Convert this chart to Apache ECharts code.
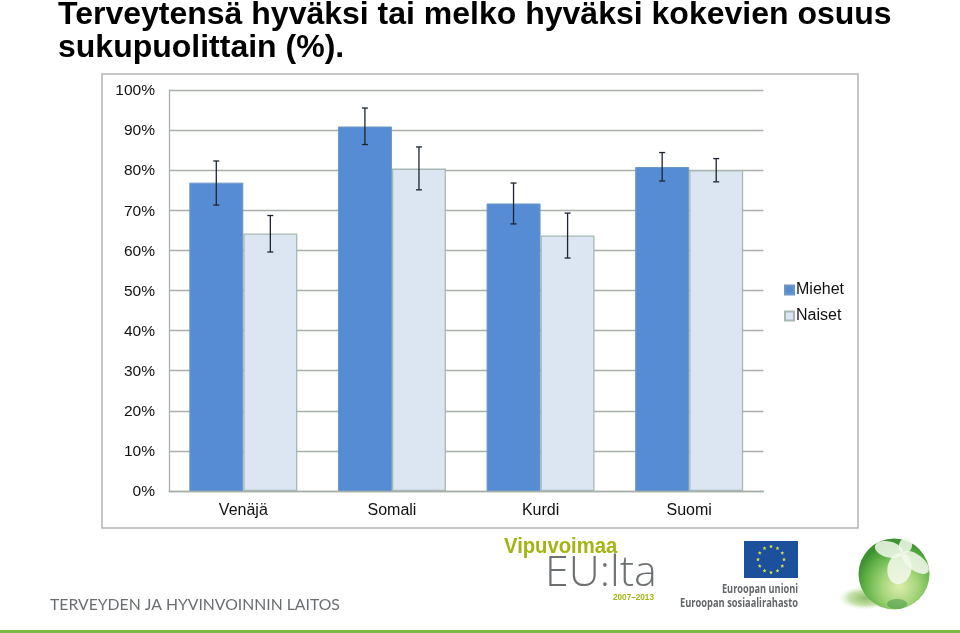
<!DOCTYPE html>
<html><head><meta charset="utf-8">
<style>html,body{margin:0;padding:0;background:#fff}#c{width:960px;height:633px}</style>
<script src="https://cdn.jsdelivr.net/npm/echarts@6/dist/echarts.min.js"></script>
</head><body><div id="c"></div>
<script>
const categories = ['Venäjä','Somali','Kurdi','Suomi'];
const yTicks = [0,10,20,30,40,50,60,70,80,90,100];
const miehet = [76.9,90.9,71.7,80.8];
const naiset = [64.2,80.4,63.7,80.0];
const miehetHigh = [82.3,95.5,76.8,84.4];
const miehetLow = [71.3,86.4,66.6,77.3];
const naisetHigh = [68.7,85.8,69.3,82.9];
const naisetLow = [59.6,75.1,58.1,77.1];

const chart = echarts.init(document.getElementById('c'));
const F = '"Liberation Sans", Arial, sans-serif';

function errorSeries(name, high, low, dir){
  return {
    name: name, type:'custom', silent:true, z:5, legendHoverLink:false,
    data: categories.map((c,i)=>[i,low[i],high[i]]),
    encode:{x:0,y:[1,2]},
    renderItem(params, api){
      const band = api.size([1,0])[0];
      const off = dir*band*27/148.5;
      const a = api.coord([api.value(0),api.value(2)]);
      const b = api.coord([api.value(0),api.value(1)]);
      const x = a[0]+off, cap=3;
      const st = {stroke:'#1c2430',lineWidth:1.3};
      return {type:'group',children:[
        {type:'line',shape:{x1:x,y1:a[1],x2:x,y2:b[1]},style:st},
        {type:'line',shape:{x1:x-cap,y1:a[1],x2:x+cap,y2:a[1]},style:st},
        {type:'line',shape:{x1:x-cap,y1:b[1],x2:x+cap,y2:b[1]},style:st}
      ]};
    }
  };
}

const decor = [];
decor.push({type:'rect',z:0,shape:{x:102,y:74,width:756,height:454},style:{fill:'#fff',stroke:'#b4b4b4',lineWidth:1.5}});
[['Terveytensä hyväksi tai melko hyväksi kokevien osuus',-1],['sukupuolittain (%).',32]].forEach(t=>{
  decor.push({type:'text',x:58,y:t[1],style:{text:t[0],font:'bold 32px '+F,fill:'#000'}});
});
decor.push({type:'text',x:50,y:597,style:{text:'TERVEYDEN JA HYVINVOINNIN LAITOS',font:'15.75px Lato, sans-serif',fill:'#6b6e70'}});
decor.push({type:'rect',shape:{x:0,y:630,width:960,height:3},style:{fill:'#7cb84a'}});
// Vipuvoimaa EU:lta logo
decor.push({type:'text',x:504,y:535.5,scaleX:0.92,style:{text:'Vipuvoimaa',font:'bold 22px "Liberation Sans", sans-serif',fill:'#a3b512'}});
decor.push({type:'text',x:545,y:552,style:{text:'EU:lta',font:'300 43px "Open Sans", sans-serif',fill:'#6d7072'}});
decor.push({type:'text',x:613,y:594,style:{text:'2007–2013',font:'bold 8.2px "Liberation Sans", sans-serif',fill:'#a3b512'}});
// EU flag
decor.push({type:'rect',shape:{x:744,y:541,width:54,height:37},style:{fill:'#1c4f9c'}});
for(let k=0;k<12;k++){
  const ang=k*Math.PI/6, cx=771+13*Math.sin(ang), cy=559.5-13*Math.cos(ang), pts=[];
  for(let j=0;j<10;j++){const r=j%2?0.9:2.1,t=j*Math.PI/5;pts.push([cx+r*Math.sin(t),cy-r*Math.cos(t)]);}
  decor.push({type:'polygon',shape:{points:pts},style:{fill:'#d8e24a'}});
}
decor.push({type:'text',x:798,y:584,scaleX:0.8,style:{text:'Euroopan unioni',textAlign:'right',font:'bold 11.5px "Open Sans", sans-serif',fill:'#63676a'}});
decor.push({type:'text',x:798,y:598,scaleX:0.81,style:{text:'Euroopan sosiaalirahasto',textAlign:'right',font:'bold 11.5px "Open Sans", sans-serif',fill:'#63676a'}});
// green sphere
decor.push({type:'circle',x:860,y:598,scaleX:2.3,shape:{cx:0,cy:0,r:12},style:{fill:new echarts.graphic.RadialGradient(0.6,0.5,0.5,[{offset:0,color:'#8fbf6a'},{offset:0.6,color:'#c6e0aa'},{offset:1,color:'rgba(235,245,225,0)'}])}});
decor.push({type:'circle',shape:{cx:894,cy:574,r:35.5},style:{fill:new echarts.graphic.RadialGradient(0.58,0.68,0.62,[{offset:0,color:'#dcecae'},{offset:0.4,color:'#a6d67c'},{offset:0.8,color:'#5db044'},{offset:1,color:'#3f9232'}])}});
decor.push({type:'ellipse',shape:{cx:897,cy:604,rx:10,ry:5},style:{fill:'rgba(50,140,60,0.45)'}});
const hub=[903,553];
[[875,546,8],[908,538,6.5],[928,572,8],[896,584,12]].forEach(p=>{
  const dx=p[0]-hub[0],dy=p[1]-hub[1],len=Math.hypot(dx,dy),th=Math.atan2(dy,dx);
  decor.push({type:'ellipse',x:hub[0]+dx/2,y:hub[1]+dy/2,rotation:-th,shape:{cx:0,cy:0,rx:len/2,ry:p[2]},style:{fill:'rgba(243,249,236,0.85)'}});
});

chart.setOption({
  animation:false,
  backgroundColor:'#fff',
  graphic:{elements:decor.map(d=>Object.assign({silent:true,z:d.z===0?-1:1},d))},
  grid:{left:169,right:196.5,top:90,bottom:142},
  legend:{
    orient:'vertical',left:779,top:276,itemWidth:9,itemHeight:9,itemGap:8,
    data:[{name:'Miehet',icon:'rect'},{name:'Naiset',icon:'rect'}],
    textStyle:{fontFamily:F,fontSize:16,color:'#111',padding:[0,0,0,-3],lineHeight:18}
  },
  xAxis:{type:'category',data:categories,
    axisLine:{lineStyle:{color:'#a9b0a9',width:1.3}},axisTick:{show:false},
    axisLabel:{fontFamily:F,fontSize:16,color:'#111',margin:12}},
  yAxis:{type:'value',min:0,max:100,interval:10,
    axisLine:{show:true,lineStyle:{color:'#a9b0a9',width:1.3}},axisTick:{show:false},
    axisLabel:{margin:14,formatter:v=>yTicks.includes(v)?'{t|'+v+'%}':'',
      rich:{t:{fontFamily:F,fontSize:15.5,color:'#111',padding:[2,0,0,0]}}},
    splitLine:{lineStyle:{color:'#a9b0a9',width:1.3}}},
  series:[
    {name:'Miehet',type:'bar',barWidth:54,barGap:'0%',data:miehet,z:2,
      itemStyle:{color:'#568cd4',borderColor:'#6f97c4',borderWidth:1}},
    {name:'Naiset',type:'bar',barWidth:54,barGap:'0%',data:naiset,z:2,
      itemStyle:{color:'#dce6f2',borderColor:'#a7b8b4',borderWidth:1.3}},
    errorSeries('MiehetErr',miehetHigh,miehetLow,-1),
    errorSeries('NaisetErr',naisetHigh,naisetLow,1)
  ]
});
</script></body></html>
